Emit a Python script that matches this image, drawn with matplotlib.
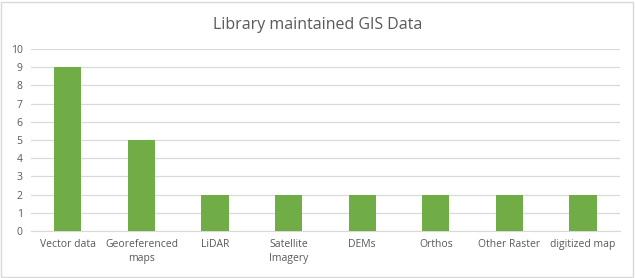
import matplotlib
matplotlib.use("Agg")
import matplotlib.pyplot as plt
from matplotlib.patches import Rectangle

plt.rcParams["font.family"] = ["Open Sans", "DejaVu Sans"]

categories = ["Vector data", "Georeferenced\nmaps", "LiDAR", "Satellite\nImagery",
              "DEMs", "Orthos", "Other Raster", "digitized map"]
values = [9, 5, 2, 2, 2, 2, 2, 2]

fig = plt.figure(figsize=(6.35, 2.78), dpi=100)
ax = fig.add_axes([0.0488, 0.169, 0.9272, 0.655])

x = range(len(categories))
ax.bar(x, values, width=0.37, color="#70AD47", zorder=3)

ax.set_xlim(-0.5, len(categories) - 0.5)
ax.set_ylim(0, 10)
ax.set_yticks(range(0, 11))
ax.grid(axis="y", color="#D9D9D9", linewidth=0.9, zorder=0)
ax.set_xticks(list(x))
ax.set_xticklabels(categories, fontsize=7.5, color="#595959", linespacing=1.3)
ax.tick_params(axis="y", labelsize=7.5, labelcolor="#595959", length=0, pad=6)
ax.tick_params(axis="x", length=0, pad=6)
for s in ["top", "right", "left"]:
    ax.spines[s].set_visible(False)
ax.spines["bottom"].set_color("#D9D9D9")

fig.text(0.5, 0.91, "Library maintained GIS Data", ha="center", va="center",
         fontsize=11.5, color="#595959")

fig.patches.append(Rectangle((0.002, 0.004), 0.995, 0.99, transform=fig.transFigure,
                             fill=False, edgecolor="#D9D9D9", linewidth=1))

fig.savefig("out.png", dpi=100)
